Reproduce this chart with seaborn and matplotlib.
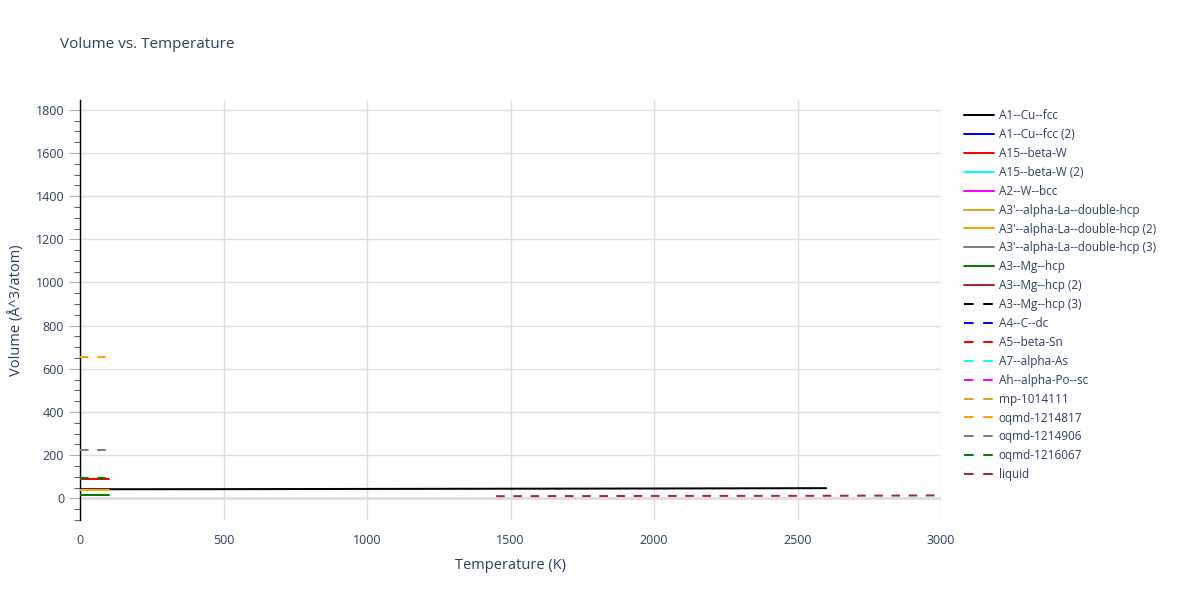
import matplotlib
matplotlib.use("Agg")
import matplotlib.pyplot as plt
from matplotlib.lines import Line2D
from matplotlib.ticker import MultipleLocator
import pandas as pd
import seaborn as sns

sns.set_style("white")
plt.rcParams["font.family"] = ["Open Sans", "DejaVu Sans"]

TEXT = "#2a3f5f"

# series names, colours and dash style (legend order)
names = [
    "A1--Cu--fcc", "A1--Cu--fcc (2)", "A15--beta-W", "A15--beta-W (2)", "A2--W--bcc",
    "A3'--alpha-La--double-hcp", "A3'--alpha-La--double-hcp (2)",
    "A3'--alpha-La--double-hcp (3)", "A3--Mg--hcp", "A3--Mg--hcp (2)", "A3--Mg--hcp (3)",
    "A4--C--dc", "A5--beta-Sn", "A7--alpha-As", "Ah--alpha-Po--sc", "mp-1014111",
    "oqmd-1214817", "oqmd-1214906", "oqmd-1216067", "liquid",
]
colors = [
    "black", "blue", "red", "cyan", "magenta", "goldenrod", "orange", "gray", "green", "brown",
    "black", "blue", "red", "cyan", "magenta", "goldenrod", "orange", "gray", "green", "brown",
]
dashed = [False] * 10 + [True] * 10

# values (temperature K, volume A^3/atom)
cu_fcc_T = [0, 500, 1000, 1500, 2000, 2600]
cu_fcc_V = [42.5, 43.0, 44.0, 45.0, 46.0, 47.5]
beta_w_T = [0, 50, 100]
beta_w_V = [92, 92, 92]
la_dhcp2_T = [0, 50, 100]
la_dhcp2_V = [40, 40, 40]
mg_hcp_T = [0, 50, 100]
mg_hcp_V = [18, 18, 18]
oqmd_1214817_T = [0, 50, 100]
oqmd_1214817_V = [657, 657, 657]
oqmd_1214906_T = [0, 50, 100]
oqmd_1214906_V = [225, 225, 225]
oqmd_1216067_T = [0, 50, 100]
oqmd_1216067_V = [96, 96, 96]
liquid_T = [1450, 2000, 2500, 2800, 3000]
liquid_V = [10.5, 11.5, 12.0, 13.0, 14.0]

series = {
    "A1--Cu--fcc": (cu_fcc_T, cu_fcc_V),
    "A15--beta-W": (beta_w_T, beta_w_V),
    "A3'--alpha-La--double-hcp (2)": (la_dhcp2_T, la_dhcp2_V),
    "A3--Mg--hcp": (mg_hcp_T, mg_hcp_V),
    "oqmd-1214817": (oqmd_1214817_T, oqmd_1214817_V),
    "oqmd-1214906": (oqmd_1214906_T, oqmd_1214906_V),
    "oqmd-1216067": (oqmd_1216067_T, oqmd_1216067_V),
    "liquid": (liquid_T, liquid_V),
}

DASH = (4.3, 4.3)

fig = plt.figure(figsize=(12, 6), dpi=100)
ax = fig.add_axes([0.0667, 0.1333, 0.7175, 0.70])

for name, color, is_dash in zip(names, colors, dashed):
    if name not in series:
        continue
    t, v = series[name]
    df = pd.DataFrame({"T": t, "V": v})
    sns.lineplot(data=df, x="T", y="V", color=color, lw=2.0 / 1.39, ax=ax,
                 legend=False, zorder=3)
    if is_dash:
        ax.lines[-1].set_dashes(DASH)

ax.set_xlim(0, 3000)
ax.set_ylim(-100, 1845)
ax.set_xticks(range(0, 3001, 500))
ax.set_yticks(range(0, 1801, 200))
ax.yaxis.set_minor_locator(MultipleLocator(50))
ax.grid(True, which="major", color="#dedede", lw=1)
ax.axhline(0, color="#dedede", lw=2, zorder=1)
for s in ["top", "right", "bottom"]:
    ax.spines[s].set_visible(False)
ax.spines["left"].set_color("black")
ax.spines["left"].set_linewidth(1)
ax.tick_params(axis="y", which="major", length=8, color="#b0b0b0", labelsize=9,
               labelcolor=TEXT, left=True, direction="out")
ax.tick_params(axis="y", which="minor", length=4, color="#444444", left=True,
               direction="out")
ax.tick_params(axis="x", length=0, labelsize=9, labelcolor=TEXT, pad=10)
ax.set_xlabel("Temperature (K)", fontsize=10.5, color=TEXT, labelpad=8)
ax.set_ylabel("Volume (Å^3/atom)", fontsize=10.5, color=TEXT, labelpad=8)

fig.text(0.05, 0.925, "Volume vs. Temperature", fontsize=11, color=TEXT,
         va="center", ha="left")

handles = []
for name, color, is_dash in zip(names, colors, dashed):
    h = Line2D([0], [0], color=color, lw=2.0 / 1.39)
    if is_dash:
        h.set_dashes((4.8, 4.8))
    handles.append(h)
fig.legend(handles, names, loc="upper left", bbox_to_anchor=(0.799, 0.826),
           frameon=False, fontsize=8.5, labelcolor=TEXT, handlelength=2.55,
           handletextpad=0.42, labelspacing=0.5, borderaxespad=0)

fig.savefig("out.png", dpi=100)
